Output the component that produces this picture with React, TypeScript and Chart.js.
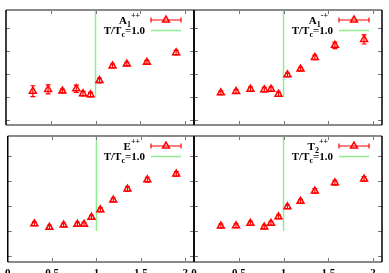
import React, { useEffect, useRef } from 'react';
import { Chart, registerables } from 'chart.js';

Chart.register(...registerables);

// ---- data ----
const temps = [0.3, 0.47, 0.63, 0.785, 0.86, 0.944, 1.044, 1.19, 1.35, 1.574, 1.9];
const a1pp = [2.24, 2.32, 2.25, 2.35, 2.13, 2.09, 2.71, 3.35, 3.43, 3.51, 3.93];
const a1ppErr = [0.24, 0.2, 0.08, 0.16, 0.1, 0.1, 0.1, 0.08, 0.08, 0.08, 0.1];
const a1mp = [2.17, 2.23, 2.33, 2.31, 2.33, 2.11, 2.96, 3.21, 3.72, 4.25, 4.51];
const a1mpErr = [0.08, 0.08, 0.1, 0.1, 0.1, 0.1, 0.08, 0.08, 0.1, 0.14, 0.2];
const epp = [2.29, 2.15, 2.24, 2.27, 2.27, 2.55, 2.85, 3.24, 3.68, 4.05, 4.28];
const eppErr = [0.08, 0.08, 0.08, 0.08, 0.08, 0.08, 0.08, 0.08, 0.1, 0.1, 0.1];
const t2pp = [2.2, 2.21, 2.31, 2.16, 2.31, 2.57, 2.97, 3.19, 3.6, 3.93, 4.08];
const t2ppErr = [0.08, 0.08, 0.08, 0.08, 0.08, 0.08, 0.08, 0.08, 0.1, 0.1, 0.1];
const xTicks = [0, 0.5, 1, 1.5, 2];
const xTickLabels = ['0', '0.5', '1', '1.5', '2'];
const yTicks = [1, 2, 3, 4, 5];
const tcLineX = [1, 1];
const tcLineY = [2, 5.8];
const X_MIN = 0, X_MAX = 2.1, Y_MIN = 0.76, Y_MAX = 5.8;

const W = 389, H = 273;
const AXIS_H = 11;

type Panel = {
  base: string; sub: string; sup: string;
  values: number[]; errs: number[];
  left: number; top: number; right: number; bottom: number;
  showX: boolean;
};

const panels: Panel[] = [
  { base: 'A', sub: '1', sup: '++', values: a1pp, errs: a1ppErr, left: 6, top: 10, right: 194, bottom: 136, showX: false },
  { base: 'A', sub: '1', sup: '-+', values: a1mp, errs: a1mpErr, left: 194, top: 10, right: 382, bottom: 136, showX: false },
  { base: 'E', sub: '', sup: '++', values: epp, errs: eppErr, left: 6, top: 136, right: 194, bottom: 262, showX: true },
  { base: 'T', sub: '2', sup: '++', values: t2pp, errs: t2ppErr, left: 194, top: 136, right: 382, bottom: 262, showX: true },
];

const RED = '#ff0000';
const GREEN = '#90ee90';
const FONT = 'Liberation Serif';

function triangle(ctx: CanvasRenderingContext2D, x: number, y: number, r: number) {
  let rad = 0;
  const tt = (2 * Math.PI) / 3;
  ctx.beginPath();
  ctx.moveTo(x + Math.sin(rad) * r, y - Math.cos(rad) * r);
  rad += tt;
  ctx.lineTo(x + Math.sin(rad) * r, y - Math.cos(rad) * r);
  rad += tt;
  ctx.lineTo(x + Math.sin(rad) * r, y - Math.cos(rad) * r);
  ctx.closePath();
  ctx.stroke();
}

function makePlugin(p: Panel) {
  return {
    id: 'panelDeco',
    beforeDatasetsDraw(chart: any) {
      const { ctx } = chart;
      const xs = chart.scales.x, ys = chart.scales.y;
      ctx.save();
      ctx.strokeStyle = RED;
      ctx.lineWidth = 1.2;
      p.values.forEach((v, i) => {
        const px = xs.getPixelForValue(temps[i]);
        const y1 = ys.getPixelForValue(v - p.errs[i]);
        const y2 = ys.getPixelForValue(v + p.errs[i]);
        ctx.beginPath();
        ctx.moveTo(px, y1); ctx.lineTo(px, y2);
        ctx.moveTo(px - 2.5, y1); ctx.lineTo(px + 2.5, y1);
        ctx.moveTo(px - 2.5, y2); ctx.lineTo(px + 2.5, y2);
        ctx.stroke();
      });
      ctx.restore();
    },
    afterDraw(chart: any) {
      const { ctx, chartArea: a } = chart;
      const xs = chart.scales.x, ys = chart.scales.y;
      ctx.save();
      // ticks
      ctx.strokeStyle = '#777';
      ctx.lineWidth = 1;
      xTicks.forEach((v) => {
        if (v <= X_MIN) return;
        const px = Math.round(xs.getPixelForValue(v)) + 0.5;
        ctx.beginPath();
        ctx.moveTo(px, a.bottom); ctx.lineTo(px, a.bottom - 4);
        ctx.moveTo(px, a.top); ctx.lineTo(px, a.top + 4);
        ctx.stroke();
      });
      yTicks.forEach((v) => {
        const py = Math.round(ys.getPixelForValue(v)) + 0.5;
        ctx.beginPath();
        ctx.moveTo(a.left, py); ctx.lineTo(a.left + 4, py);
        ctx.moveTo(a.right, py); ctx.lineTo(a.right - 4, py);
        ctx.stroke();
      });
      // borders
      ctx.strokeStyle = '#8a8a8a';
      ctx.lineWidth = 2;
      ctx.beginPath();
      ctx.moveTo(a.left, a.top); ctx.lineTo(a.right, a.top);
      ctx.moveTo(a.left, a.bottom); ctx.lineTo(a.right, a.bottom);
      ctx.stroke();
      ctx.strokeStyle = '#000';
      ctx.lineWidth = 1.5;
      ctx.beginPath();
      ctx.moveTo(a.left, a.top); ctx.lineTo(a.left, a.bottom);
      ctx.moveTo(a.right, a.top); ctx.lineTo(a.right, a.bottom);
      ctx.stroke();

      // legend
      const sEnd = a.right - 13;
      const sStart = sEnd - 30;
      const r1 = a.top + 10;
      const r2 = a.top + 20.5;
      ctx.strokeStyle = RED;
      ctx.lineWidth = 1.2;
      ctx.beginPath();
      ctx.moveTo(sStart, r1); ctx.lineTo(sEnd, r1);
      ctx.moveTo(sStart, r1 - 2.5); ctx.lineTo(sStart, r1 + 2.5);
      ctx.moveTo(sEnd, r1 - 2.5); ctx.lineTo(sEnd, r1 + 2.5);
      ctx.stroke();
      ctx.lineWidth = 1.5;
      triangle(ctx, (sStart + sEnd) / 2, r1, 4);
      ctx.strokeStyle = GREEN;
      ctx.lineWidth = 1.5;
      ctx.beginPath();
      ctx.moveTo(sStart, r2); ctx.lineTo(sEnd, r2);
      ctx.stroke();

      ctx.fillStyle = '#000';
      ctx.textBaseline = 'alphabetic';
      const big = `bold 11px "${FONT}"`;
      const small = `bold 8px "${FONT}"`;
      // row 1
      ctx.font = big; const wb = ctx.measureText(p.base).width;
      ctx.font = small; const wsub = ctx.measureText(p.sub).width; const wsup = ctx.measureText(p.sup).width;
      const end1 = sStart - 11;
      let x = end1 - (wb + wsub + wsup);
      const b1 = r1 + 4;
      ctx.font = big; ctx.fillText(p.base, x, b1); x += wb;
      ctx.font = small; ctx.fillText(p.sub, x, b1 + 3); x += wsub;
      ctx.fillText(p.sup, x, b1 - 6);
      // row 2
      const b2 = r2 + 3.5;
      ctx.font = big; const w1 = ctx.measureText('T/T').width; const w3 = ctx.measureText('=1.0').width;
      ctx.font = small; const w2 = ctx.measureText('c').width;
      x = sStart - 6 - (w1 + w2 + w3);
      ctx.font = big; ctx.fillText('T/T', x, b2); x += w1;
      ctx.font = small; ctx.fillText('c', x, b2 + 3); x += w2;
      ctx.font = big; ctx.fillText('=1.0', x, b2);
      ctx.restore();
    },
  };
}

function PanelChart({ p }: { p: Panel }) {
  const ref = useRef<HTMLCanvasElement | null>(null);
  useEffect(() => {
    if (!ref.current) return;
    const chart = new Chart(ref.current, {
      type: 'scatter',
      data: {
        datasets: [
          {
            type: 'scatter',
            data: temps.map((t, i) => ({ x: t, y: p.values[i] })),
            pointStyle: 'triangle',
            pointRadius: 4,
            borderColor: RED,
            backgroundColor: 'rgba(0,0,0,0)',
            borderWidth: 1.5,
            order: 1,
          } as any,
          {
            type: 'line',
            data: tcLineY.map((y, i) => ({ x: tcLineX[i], y })),
            borderColor: GREEN,
            borderWidth: 1.5,
            pointRadius: 0,
            showLine: true,
            fill: false,
            order: 2,
          } as any,
        ],
      },
      options: {
        responsive: false,
        maintainAspectRatio: false,
        animation: false,
        layout: {
          padding: {
            left: p.left,
            top: p.top,
            right: W - p.right,
            bottom: p.showX ? H - p.bottom - AXIS_H : H - p.bottom,
          },
        },
        plugins: { legend: { display: false }, tooltip: { enabled: false } },
        scales: {
          x: {
            type: 'linear',
            min: X_MIN,
            max: X_MAX,
            display: p.showX,
            afterBuildTicks: (ax: any) => { ax.ticks = xTicks.map((v) => ({ value: v })); },
            afterFit: (ax: any) => { ax.height = AXIS_H; },
            grid: { display: false, drawTicks: false },
            border: { display: false },
            ticks: {
              autoSkip: false,
              maxRotation: 0,
              padding: 5,
              color: '#000',
              font: { family: FONT, size: 11, weight: 'bold' },
              callback: (v: any) => xTickLabels[xTicks.indexOf(Number(v))] ?? '',
            },
          },
          y: {
            type: 'linear',
            min: Y_MIN,
            max: Y_MAX,
            display: false,
            afterBuildTicks: (ax: any) => { ax.ticks = yTicks.map((v) => ({ value: v })); },
          },
        },
      } as any,
      plugins: [makePlugin(p)],
    });
    return () => chart.destroy();
  }, [p]);
  return (
    <canvas
      ref={ref}
      width={W}
      height={H}
      style={{ position: 'absolute', left: 0, top: 0, width: W, height: H }}
    />
  );
}

export default function App() {
  useEffect(() => {
    document.body.style.margin = '0';
  }, []);
  return (
    <div style={{ position: 'relative', width: W, height: H, overflow: 'hidden', background: '#fff' }}>
      {panels.map((p, i) => (
        <PanelChart key={i} p={p} />
      ))}
    </div>
  );
}
